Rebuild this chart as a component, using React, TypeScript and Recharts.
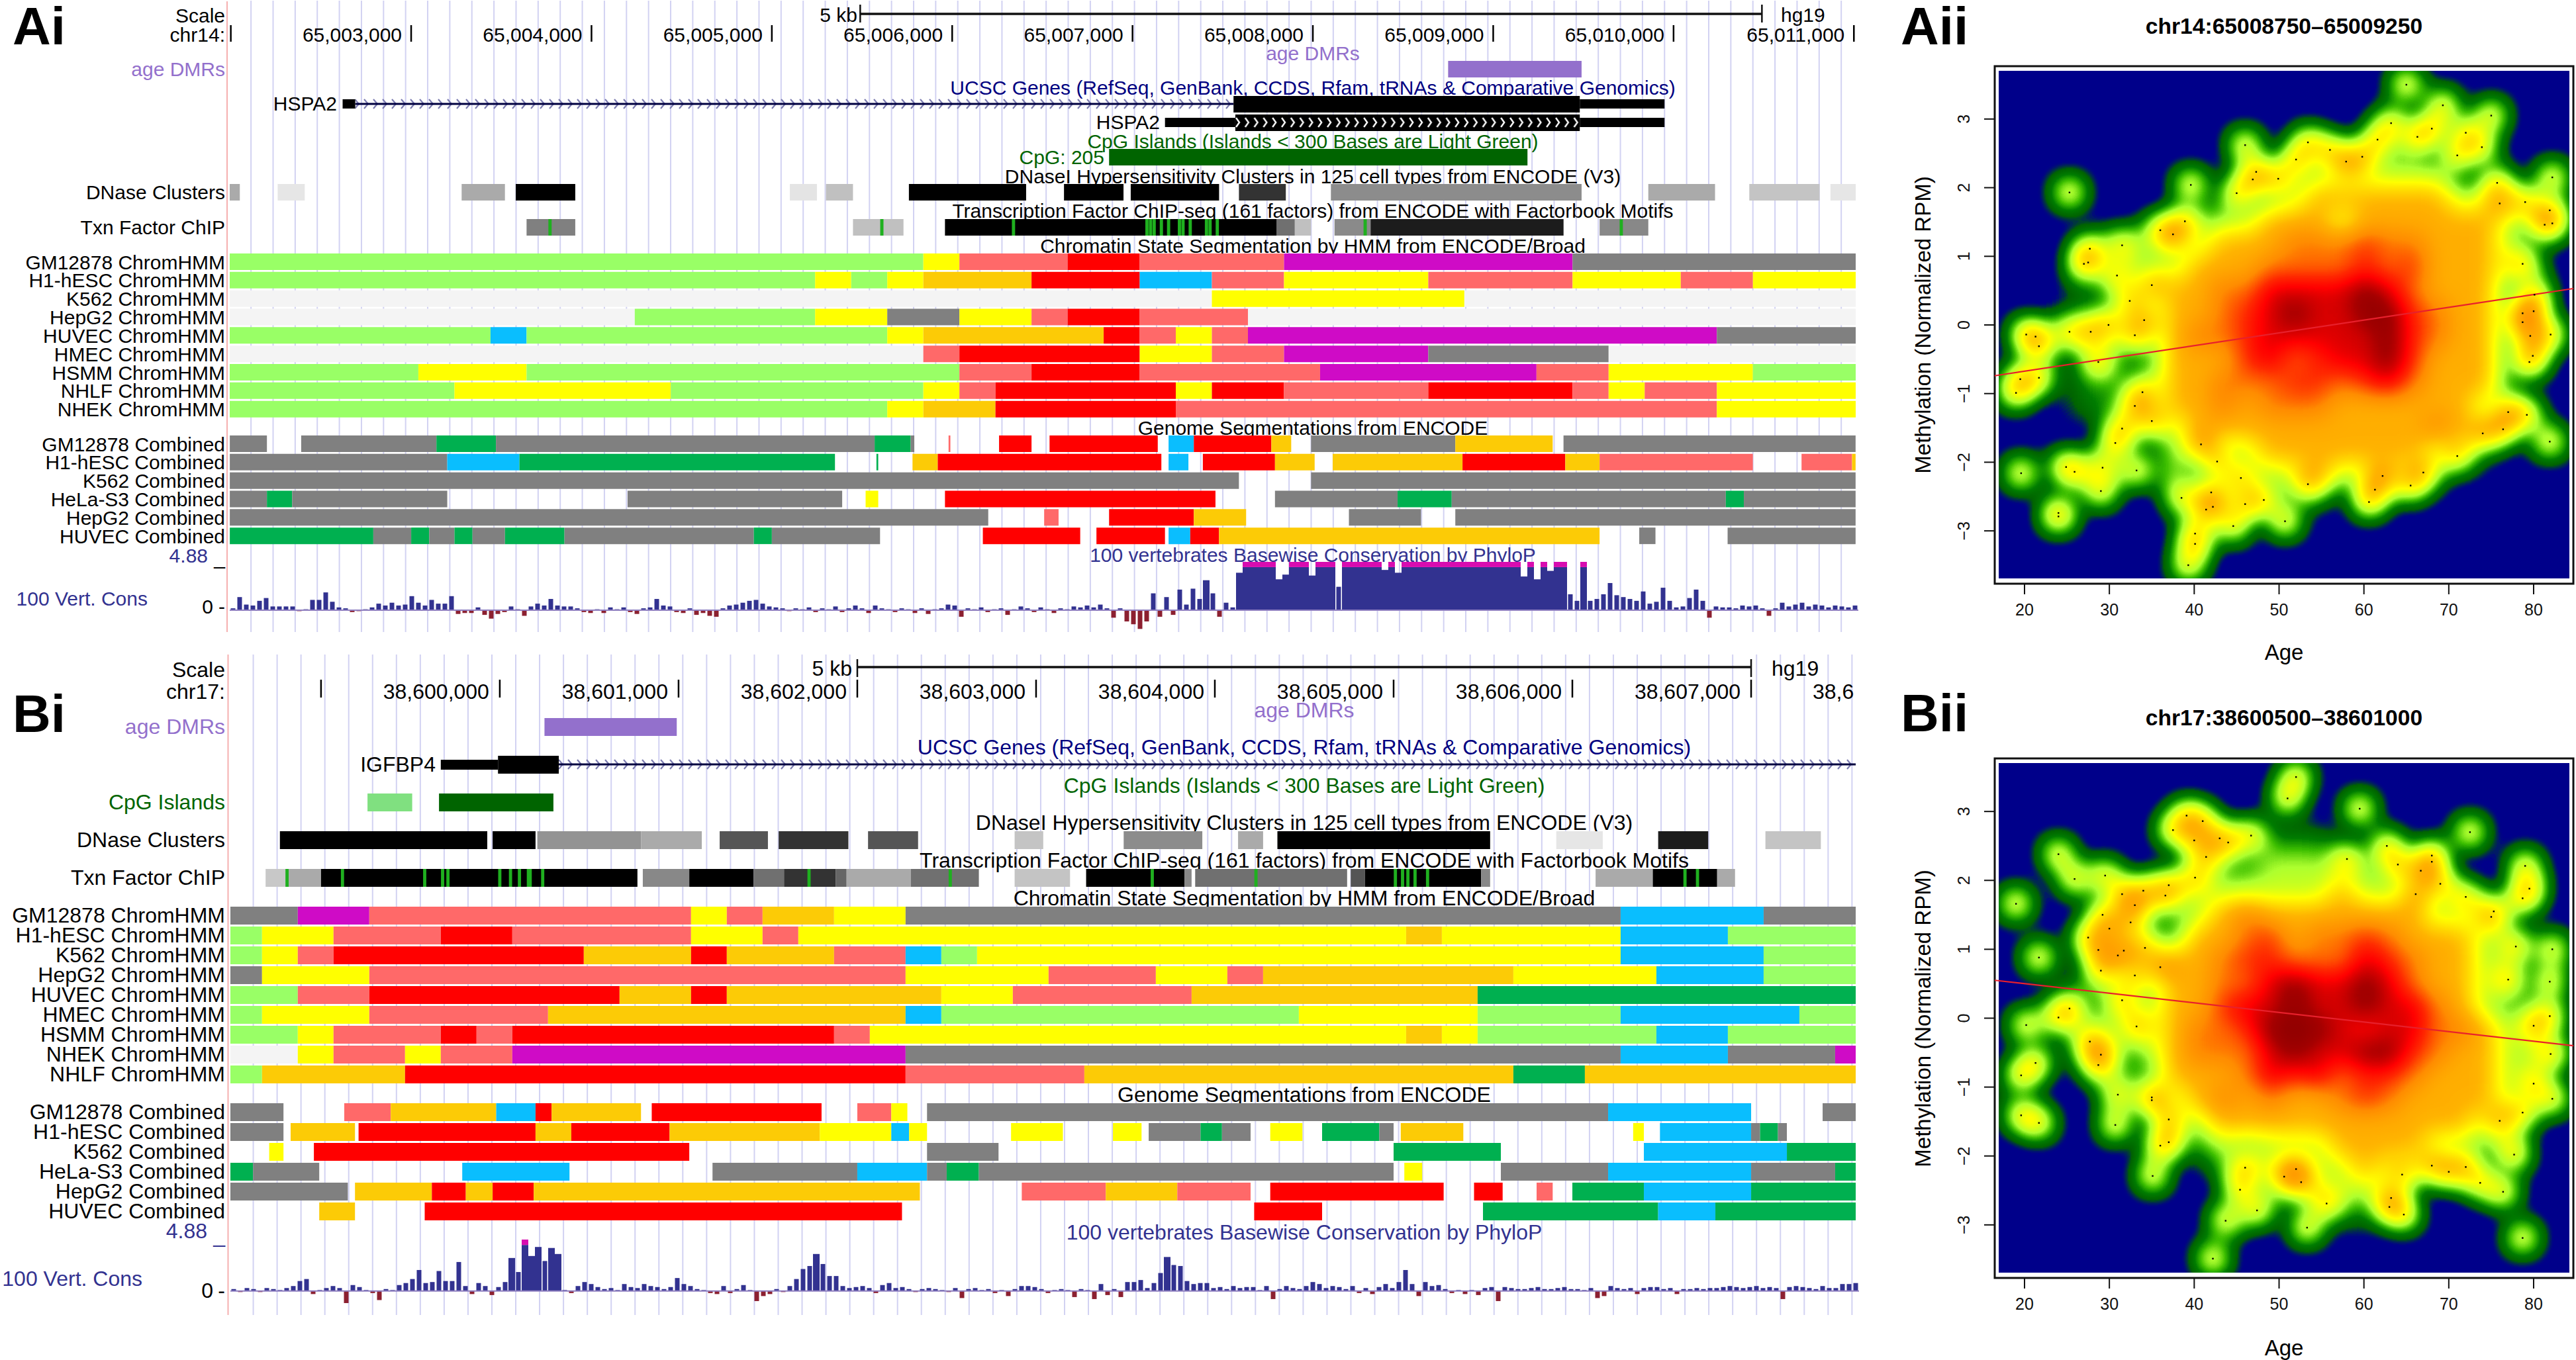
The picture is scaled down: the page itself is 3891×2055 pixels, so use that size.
import React from "react";
import {
  BarChart,
  Bar,
  Cell,
  ScatterChart,
  Scatter,
  XAxis,
  YAxis,
  ReferenceLine,
  ReferenceArea,
} from "recharts";

// every stop is [end position in kb, state]; a row starts at 0 and walks through its stops
type Stop = [number, string | number];
type Track = { name: string; stops: Stop[] };

const END = 14;

const STATE_COLORS: Record<string, string> = {
  G: "#99ff66",
  Y: "#ffff00",
  S: "#ff6969",
  R: "#ff0000",
  O: "#fccb06",
  P: "#cf0bc6",
  A: "#808080",
  B: "#0abefe",
  D: "#00b050",
  L: "#f4f4f4",
  M: "#1fb01f",
  K: "#000000",
  C: "#006400",
  c: "#80e080",
  V: "#9370cc",
  I: "url(#intronPattern)",
  H: "url(#cdsPattern)",
};

// ---- panel A, kb after 65,000,000 ----
const hmmA: Track[] = [
  { name: "GM12878 ChromHMM", stops: [[5.84, "G"], [6.04, "Y"], [6.64, "S"], [7.04, "R"], [7.84, "S"], [9.44, "P"], [END, "A"]] },
  { name: "H1-hESC ChromHMM", stops: [[5.24, "G"], [5.44, "Y"], [5.64, "G"], [5.84, "Y"], [6.44, "O"], [7.04, "R"], [7.44, "B"], [7.84, "S"], [8.64, "Y"], [9.44, "S"], [10.04, "Y"], [10.44, "S"], [END, "Y"]] },
  { name: "K562 ChromHMM", stops: [[7.44, "L"], [8.84, "Y"], [END, "L"]] },
  { name: "HepG2 ChromHMM", stops: [[4.24, "L"], [5.24, "G"], [5.64, "Y"], [6.04, "A"], [6.44, "Y"], [6.64, "S"], [7.04, "R"], [7.64, "S"], [END, "L"]] },
  { name: "HUVEC ChromHMM", stops: [[3.44, "G"], [3.64, "B"], [5.64, "G"], [5.84, "Y"], [6.84, "O"], [7.04, "R"], [7.24, "S"], [7.44, "Y"], [7.64, "S"], [10.24, "P"], [END, "A"]] },
  { name: "HMEC ChromHMM", stops: [[5.84, "L"], [6.04, "S"], [7.04, "R"], [7.44, "Y"], [7.84, "S"], [8.64, "P"], [9.64, "A"], [END, "L"]] },
  { name: "HSMM ChromHMM", stops: [[3.04, "G"], [3.64, "Y"], [6.04, "G"], [6.44, "S"], [7.04, "R"], [8.04, "S"], [9.24, "P"], [9.64, "S"], [10.44, "Y"], [END, "G"]] },
  { name: "NHLF ChromHMM", stops: [[3.24, "G"], [4.44, "Y"], [5.84, "G"], [6.04, "Y"], [6.24, "S"], [7.24, "R"], [7.44, "Y"], [7.84, "R"], [8.64, "S"], [9.44, "R"], [9.64, "S"], [9.84, "Y"], [10.24, "S"], [END, "Y"]] },
  { name: "NHEK ChromHMM", stops: [[5.64, "G"], [5.84, "Y"], [6.24, "O"], [7.24, "R"], [10.24, "S"], [END, "Y"]] },
];

const combinedA: Track[] = [
  { name: "GM12878 Combined", stops: [[2.2, "A"], [2.39, 0], [3.14, "A"], [3.47, "D"], [5.57, "A"], [5.77, "D"], [5.79, "A"], [5.98, 0], [5.99, "S"], [6.26, 0], [6.44, "R"], [6.54, 0], [7.14, "R"], [7.2, 0], [7.34, "B"], [7.77, "R"], [7.88, "O"], [7.99, 0], [8.79, "A"], [9.33, "O"], [9.39, 0], [END, "A"]] },
  { name: "H1-hESC Combined", stops: [[3.2, "A"], [3.6, "B"], [5.35, "D"], [5.58, 0], [5.59, "D"], [5.78, 0], [5.92, "O"], [7.16, "R"], [7.2, 0], [7.31, "B"], [7.39, 0], [7.79, "R"], [8.01, "O"], [8.11, 0], [8.83, "O"], [9.4, "R"], [9.59, "O"], [10.44, "S"], [10.71, 0], [10.99, "S"], [END, "O"]] },
  { name: "K562 Combined", stops: [[7.59, "A"], [7.99, 0], [END, "A"]] },
  { name: "HeLa-S3 Combined", stops: [[2.2, "A"], [2.34, "D"], [3.2, "A"], [4.2, 0], [5.39, "A"], [5.52, 0], [5.59, "Y"], [5.96, 0], [7.46, "R"], [7.79, 0], [8.47, "A"], [8.77, "D"], [10.29, "A"], [10.39, "D"], [END, "A"]] },
  { name: "HepG2 Combined", stops: [[6.2, "A"], [6.51, 0], [6.59, "S"], [6.87, 0], [7.34, "R"], [7.63, "O"], [8.2, 0], [8.6, "A"], [8.79, 0], [END, "A"]] },
  { name: "HUVEC Combined", stops: [[2.79, "D"], [3.0, "A"], [3.1, "D"], [3.24, "A"], [3.34, "D"], [3.52, "A"], [3.85, "D"], [4.9, "A"], [5.0, "D"], [5.6, "A"], [6.17, 0], [6.71, "R"], [6.8, 0], [7.18, "R"], [7.2, 0], [7.32, "B"], [7.48, "R"], [9.59, "O"], [9.81, 0], [9.9, "A"], [10.3, 0], [END, "A"]] },
];

const dmrA: Stop[] = [[8.75, 0], [9.49, "V"]];
const cpgA: Stop[] = [[6.87, 0], [9.19, "C"]];
const dnaseA: Stop[] = [[2.05, 85], [2.26, 0], [2.41, 25], [3.28, 0], [3.52, 85], [3.58, 0], [3.91, 255], [5.1, 0], [5.25, 27], [5.3, 0], [5.45, 63], [5.76, 0], [6.41, 255], [6.62, 0], [6.95, 255], [6.99, 0], [7.48, 255], [7.59, 0], [7.85, 204], [8.1, 0], [9.49, 115], [9.86, 0], [10.23, 85], [10.42, 0], [10.81, 59], [10.87, 0], [END, 25]];
const tfA: Stop[] = [[3.64, 0], [3.91, 127], [5.45, 0], [5.73, 63], [5.96, 0], [7.8, 255], [7.9, 143], [7.99, 63], [8.12, 0], [8.32, 117], [9.39, 227], [9.59, 0], [9.86, 119]];
const motifsA = [3.77, 5.61, 6.34, 7.08, 7.1, 7.12, 7.16, 7.2, 7.26, 7.28, 7.32, 7.41, 7.43, 7.47, 8.29, 9.71];
const geneIntronA: Stop[] = [[2.69, 0], [7.56, "I"]];
const geneUtrA: Stop[] = [[2.62, 0], [2.69, "K"], [9.48, 0], [9.95, "K"]];
const geneThickA: Stop[] = [[7.56, 0], [9.48, "K"]];
const transcriptUtrA: Stop[] = [[7.18, 0], [7.57, "K"], [9.48, 0], [9.95, "K"]];
const transcriptCdsA: Stop[] = [[7.57, 0], [9.48, "H"]];

const consA = [
  0.2, 1.4, 0.6, 0.5, 1.0, 1.3, 0.4, 0.4, 0.4, 0.4,
  -0.1, 0.1, 1.1, 1.1, 1.9, 0.9, 0.3, 0.2, -0.2, -0.1,
  0.1, 0.3, 0.7, 0.5, 0.8, 0.5, 0.6, 1.5, 0.8, 0.5,
  1.1, 0.7, 0.7, 1.5, -0.4, -0.3, -0.3, 0.3, -0.5, -0.9,
  -0.4, -0.2, 0.4, 0.1, -0.6, 0.4, 0.7, 0.5, 1.2, 0.5,
  0.4, 0.4, 0.2, -0.2, -0.3, 0.1, -0.3, 0.3, 0.1, 0.3,
  -0.2, -0.4, 0.2, 0.3, 1.2, 0.5, 0.4, -0.2, -0.3, 0.2,
  -0.5, -0.3, -0.6, -0.7, 0.2, 0.5, 0.6, 0.8, 1.0, 1.1,
  0.7, 0.4, 0.3, 0.2, -0.1, 0.2, 0.1, 0.3, -0.2, 0.2,
  0.1, 0.4, -0.2, 0.2, 0.5, 0.2, -0.3, 0.5, 0.2, 0.1,
  -0.2, 0.2, 0.1, -0.3, 0.2, -0.4, 0.1, 0.2, 0.6, 0.5,
  -0.7, 0.2, 0.1, 0.3, -0.2, 0.1, 0.2, -0.5, 0.1, 0.4,
  0.2, -0.2, 0.3, 0.1, -0.3, 0.2, 0.1, 0.4, 0.3, 0.5,
  0.3, 0.6, 0.2, -0.8, 0.2, -1.2, -1.5, -2.0, -1.2, 1.8,
  -0.7, 1.4, -0.5, 2.2, 0.6, 2.3, 1.2, 3.2, 1.8, -0.7,
  0.8, 0.3, 4.0, 5, 5, 5, 5, 5, 3.3, 3.8,
  5, 5, 5, 3.7, 5, 5, 5, 2.5, 5, 5,
  5, 5, 5, 5, 4.3, 5, 4.0, 5, 5, 5,
  5, 5, 5, 5, 5, 5, 5, 5, 5, 5,
  5, 5, 5, 5, 5, 3.6, 5, 3.3, 5, 4.2,
  5, 5, 1.7, 1.0, 4.7, 1.0, 1.2, 1.7, 2.9, 1.6,
  1.4, 1.2, 1.0, 2.0, 0.7, 0.9, 2.4, 1.0, 0.3, 0.4,
  1.3, 2.2, 1.0, -0.8, 0.4, 0.3, 0.3, 0.2, 0.5, 0.4,
  0.5, 0.2, -0.6, 0.2, 0.8, 0.4, 0.6, 0.8, 0.4, 0.6,
  0.5, 0.3, 0.5, 0.4, 0.3, 0.5,
];

// ---- panel B, kb after 38,595,000 ----
const hmmB: Track[] = [
  { name: "GM12878 ChromHMM", stops: [[3.87, "A"], [4.27, "P"], [6.07, "S"], [6.27, "Y"], [6.47, "S"], [6.87, "O"], [7.27, "Y"], [11.27, "A"], [12.07, "B"], [END, "A"]] },
  { name: "H1-hESC ChromHMM", stops: [[3.67, "G"], [4.07, "Y"], [4.67, "S"], [5.07, "R"], [6.07, "S"], [6.47, "Y"], [6.67, "S"], [10.07, "Y"], [10.27, "O"], [11.27, "Y"], [11.87, "B"], [END, "G"]] },
  { name: "K562 ChromHMM", stops: [[3.67, "G"], [3.87, "Y"], [4.07, "S"], [5.47, "R"], [6.07, "O"], [6.27, "R"], [6.87, "O"], [7.27, "S"], [7.47, "B"], [7.67, "G"], [11.27, "Y"], [12.07, "B"], [END, "G"]] },
  { name: "HepG2 ChromHMM", stops: [[3.67, "A"], [4.27, "Y"], [7.27, "S"], [8.07, "Y"], [8.67, "S"], [9.07, "Y"], [9.27, "S"], [10.67, "O"], [11.47, "Y"], [12.07, "B"], [END, "G"]] },
  { name: "HUVEC ChromHMM", stops: [[3.87, "G"], [4.27, "S"], [5.67, "R"], [6.07, "O"], [6.27, "R"], [7.47, "O"], [7.87, "Y"], [8.87, "S"], [10.47, "O"], [END, "D"]] },
  { name: "HMEC ChromHMM", stops: [[3.67, "G"], [4.27, "Y"], [5.27, "S"], [7.27, "O"], [7.47, "B"], [9.47, "G"], [10.47, "Y"], [11.27, "G"], [12.27, "B"], [END, "G"]] },
  { name: "HSMM ChromHMM", stops: [[3.87, "G"], [4.07, "Y"], [4.67, "S"], [4.87, "R"], [5.07, "S"], [6.87, "R"], [7.07, "S"], [10.07, "Y"], [10.27, "O"], [10.47, "Y"], [11.47, "G"], [11.87, "B"], [END, "G"]] },
  { name: "NHEK ChromHMM", stops: [[3.87, "L"], [4.07, "Y"], [4.47, "S"], [4.67, "Y"], [5.07, "S"], [7.27, "P"], [11.27, "A"], [11.87, "B"], [12.47, "A"], [END, "P"]] },
  { name: "NHLF ChromHMM", stops: [[3.67, "G"], [4.47, "O"], [7.27, "R"], [8.27, "S"], [10.67, "O"], [11.07, "D"], [END, "O"]] },
];

const combinedB: Track[] = [
  { name: "GM12878 Combined", stops: [[3.79, "A"], [4.13, 0], [4.39, "S"], [4.98, "O"], [5.2, "B"], [5.29, "R"], [5.79, "O"], [5.85, 0], [6.8, "R"], [7.0, 0], [7.19, "S"], [7.28, "Y"], [7.39, 0], [11.2, "A"], [12.0, "B"], [12.4, 0], [END, "A"]] },
  { name: "H1-hESC Combined", stops: [[3.79, "A"], [3.83, 0], [4.19, "O"], [4.21, 0], [5.2, "R"], [5.4, "O"], [5.95, "R"], [6.79, "O"], [7.19, "Y"], [7.29, "B"], [7.39, "Y"], [7.86, 0], [8.15, "Y"], [8.43, 0], [8.59, "Y"], [8.63, 0], [8.92, "A"], [9.04, "D"], [9.2, "A"], [9.31, 0], [9.49, "Y"], [9.6, 0], [9.92, "D"], [10.0, "A"], [10.04, 0], [10.39, "O"], [11.34, 0], [11.4, "Y"], [11.49, 0], [12.0, "B"], [12.05, "A"], [12.15, "D"], [12.2, "A"]] },
  { name: "K562 Combined", stops: [[3.71, 0], [3.79, "Y"], [3.96, 0], [6.06, "R"], [7.39, 0], [7.79, "A"], [10.0, 0], [10.6, "D"], [11.4, 0], [12.2, "B"], [END, "D"]] },
  { name: "HeLa-S3 Combined", stops: [[3.62, "D"], [3.99, "A"], [4.79, 0], [5.39, "B"], [6.19, 0], [7.0, "A"], [7.39, "B"], [7.5, "A"], [7.68, "D"], [10.0, "A"], [10.06, 0], [10.16, "Y"], [10.6, 0], [11.2, "A"], [12.0, "B"], [12.47, "A"], [END, "D"]] },
  { name: "HepG2 Combined", stops: [[4.15, "A"], [4.19, 0], [4.62, "O"], [4.81, "R"], [4.96, "O"], [5.19, "R"], [7.35, "O"], [7.92, 0], [8.39, "S"], [8.79, "O"], [9.2, "S"], [9.31, 0], [10.28, "R"], [10.45, 0], [10.61, "R"], [10.8, 0], [10.89, "S"], [11.0, 0], [11.4, "D"], [12.0, "B"], [END, "D"]] },
  { name: "HUVEC Combined", stops: [[3.99, 0], [4.19, "O"], [4.58, 0], [7.25, "R"], [9.22, 0], [9.6, "R"], [10.5, 0], [11.48, "D"], [11.8, "B"], [END, "D"]] },
];

const dmrB: Stop[] = [[5.25, 0], [5.99, "V"]];
const cpgB: Stop[] = [[4.26, 0], [4.51, "c"], [4.66, 0], [5.3, "C"]];
const dnaseB: Stop[] = [[3.77, 0], [4.93, 255], [4.96, 0], [5.2, 255], [5.21, 0], [5.79, 108], [6.13, 85], [6.23, 0], [6.5, 170], [6.56, 0], [6.95, 204], [7.06, 0], [7.34, 170], [7.88, 0], [8.04, 59], [8.49, 0], [8.93, 115], [9.13, 0], [9.27, 85], [9.35, 0], [10.54, 255], [10.91, 0], [11.17, 25], [11.48, 0], [11.76, 227], [12.08, 0], [12.39, 59]];
const tfB: Stop[] = [[3.69, 0], [3.81, 55], [4.0, 85], [5.77, 255], [5.8, 0], [6.06, 119], [6.42, 255], [6.59, 143], [6.88, 204], [6.94, 153], [7.3, 85], [7.68, 143], [7.88, 0], [8.19, 59], [8.28, 0], [8.83, 255], [8.87, 119], [8.89, 0], [9.74, 143], [9.76, 0], [9.84, 170], [10.49, 255], [10.54, 119], [11.13, 0], [11.45, 85], [11.81, 255], [11.91, 85]];
const motifsB = [3.81, 4.12, 4.58, 4.68, 4.71, 5.0, 5.06, 5.11, 5.16, 5.17, 5.24, 6.73, 7.52, 8.65, 9.23, 10.01, 10.05, 10.08, 10.12, 10.19, 11.63, 11.7];
const geneIntronB: Stop[] = [[5.33, 0], [END, "I"]];
const geneUtrB: Stop[] = [[4.67, 0], [4.99, "K"]];
const geneThickB: Stop[] = [[4.99, 0], [5.33, "K"]];

const consB = [
  0.2, -0.1, 0.3, 0.2, -0.1, 0.3, 0.2, 0.1, 0.3, 0.5,
  1.0, 1.2, -0.3, 0.1, 0.3, 0.5, 0.3, -1.2, 0.6, 0.4,
  0.1, -0.2, -0.9, 0.2, 0.1, 0.6, 0.8, 1.2, 2.1, 0.8,
  0.9, 2.0, 1.0, 1.0, 2.9, 0.5, -0.3, 0.8, 0.5, -0.4,
  0.4, 0.9, 3.3, 1.9, 5.1, 3.5, 4.4, 3.0, 4.3, 3.7,
  0.1, -0.2, 0.5, 0.9, 0.7, 0.4, 0.2, 0.3, 0.1, 0.7,
  0.4, 0.3, 0.7, 0.5, 0.4, 0.2, 0.4, 1.3, 0.7, 0.5,
  0.2, 0.1, -0.2, -0.3, 0.5, -0.2, 0.2, 0.6, 0.1, -1.0,
  -0.5, -0.3, 0.2, -0.1, 0.5, 1.2, 2.2, 2.5, 3.7, 2.7,
  1.5, 1.5, 0.5, 0.3, 0.4, 0.5, 0.3, -0.2, 0.6, 0.8,
  0.3, 0.4, 0.2, -0.1, 0.2, 0.3, 0.2, 0.1, -0.1, 0.3,
  -0.7, 0.2, 0.3, 0.1, 0.2, -0.2, 0.1, -0.5, 0.2, 0.5,
  0.5, 0.4, 0.2, -0.2, 0.1, 0.2, 0.1, -0.6, 0.2, 0.1,
  -0.8, 0.7, -0.4, 0.2, -0.6, 0.9, 0.9, 1.1, 0.3, 0.8,
  1.8, 3.4, 2.6, 2.5, 1.0, 0.7, 0.8, 0.8, 0.3, 0.4,
  0.2, 0.5, 0.3, 0.4, 0.4, 0.1, 0.5, -0.8, 0.2, 0.5,
  0.3, 0.2, 0.5, 0.9, 0.7, 0.3, 0.5, 0.4, 0.2, 0.5,
  -0.2, 0.3, -0.3, 0.4, 0.7, 0.3, 0.9, 2.1, 0.7, -0.5,
  0.9, 0.5, 0.6, 0.2, -0.2, 0.1, -0.3, 0.1, -0.4, 0.3,
  0.4, -1.0, 0.4, 0.3, 0.2, 0.2, 0.3, 0.4, 0.2, 0.2,
  0.3, 0.4, 0.2, 0.2, 0.1, 0.3, -0.7, -0.5, 0.5, 0.3,
  0.2, 0.3, -0.3, 0.3, 0.4, 0.4, 0.2, 0.3, -0.3, 0.2,
  0.2, 0.3, 0.2, 0.3, 0.3, 0.4, 0.5, 0.4, 0.3, 0.4,
  0.5, 0.3, 0.4, 0.3, -0.8, 0.4, 0.5, 0.4, 0.3, 0.2,
  0.5, 0.3, 0.3, 0.7, 0.7, 0.8,
];

// ---- scatter panels: the readable points, as [age, methylation] ----
const pointsA: [number, number][] = [
  [65, 3.5], [69.3, 3.2], [75, 3.05], [63.2, 2.94], [46, 2.62], [53.4, 2.66], [61.6, 2.7], [66.3, 2.74], [68, 2.86], [72, 2.8],
  [73.9, 2.59], [71, 2.47], [56, 2.55], [59.8, 2.45], [57.9, 2.38], [52, 2.41], [47.3, 2.23], [46.9, 2.12], [49.9, 2.13], [45, 1.92],
  [39.6, 2.04], [25.3, 1.93], [75.7, 2.07], [76, 1.77], [79, 1.79], [82.2, 2.15], [81.9, 1.67], [81.3, 1.46], [82.2, 1.48], [38.9, 1.51],
  [37.5, 1.32], [36, 1.38], [31.5, 1.16], [27.7, 1.11], [27, 0.89], [27.5, 0.91], [30.9, 0.72], [35, 0.58], [32.4, 0.35], [78.7, 0.89],
  [80.1, 0.44], [78.7, 0.17], [80, 0.2], [78.7, 0.04], [79.6, -0.16], [82, -0.14], [79.9, -0.45], [79.5, -0.54], [34.1, 0.07], [29.9, 0],
  [25.3, -0.1], [27.8, -0.1], [33, -0.15], [20.2, -0.14], [21.3, -0.17], [21.7, -0.31], [28.7, -0.54], [19.5, -0.79], [21.7, -0.77], [19, -0.99],
  [33.9, -0.98], [33, -1.18], [35, -1.4], [31.5, -1.51], [30.7, -1.72], [40.8, -1.74], [77, -1.27], [79.2, -1.31], [76.4, -1.52], [74, -1.58],
  [81.9, -1.7], [71, -1.91], [42.7, -1.99], [24.9, -2.07], [25.9, -2.14], [29.2, -2.08], [33.2, -2.12], [19.6, -2.16], [45.5, -2.23], [62.2, -2.2],
  [67, -2.15], [65.5, -2.34], [53.4, -2.32], [61.3, -2.4], [42, -2.44], [29, -2.42], [38.5, -2.52], [60.6, -2.58], [48.2, -2.55], [42.2, -2.65],
  [41.4, -2.69], [46, -2.61], [24, -2.74], [24, -2.79], [50.7, -2.86], [44.6, -2.93], [40.1, -3.04], [40.1, -3.19], [39.3, -3.5],
];
const pointsB: [number, number][] = [
  [52, 3.5], [51, 3.19], [59.5, 3.04], [39.1, 2.94], [41, 2.86], [37.5, 2.73], [72.5, 2.7], [46.7, 2.65], [43, 2.61], [44, 2.55],
  [40, 2.58], [62.7, 2.5], [24, 2.38], [41.4, 2.34], [58, 2.31], [68, 2.36], [68, 2.27], [64, 2.23], [79, 2.21], [66.7, 2.14],
  [29.5, 2.07], [25.9, 2.02], [40.1, 2.04], [69, 1.95], [37, 1.93], [34, 1.85], [79.5, 1.88], [31.5, 1.8], [36.6, 1.78], [66.1, 1.8],
  [72, 1.76], [78.7, 1.74], [19, 1.66], [33, 1.64], [75.3, 1.55], [75, 1.47], [29.2, 1.5], [32.5, 1.39], [30, 1.3], [27.5, 1.17],
  [34.2, 1.02], [77.9, 1.04], [82.2, 1.0], [28.7, 0.99], [31.7, 0.98], [31, 0.91], [21.7, 0.88], [36, 0.74], [29, 0.69], [77, 0.56],
  [33, 0.62], [81.9, 0.53], [31.5, 0.26], [25.3, 0.14], [24, 0.01], [81.9, 0.03], [33.2, -0.12], [20.2, -0.1], [80, -0.11], [27.7, -0.34],
  [29, -0.53], [82, -0.52], [28.7, -0.68], [21.3, -0.65], [19.6, -0.83], [80, -0.95], [31, -1.11], [35, -1.15], [35, -1.19], [82.2, -1.17],
  [78.7, -1.37], [37, -1.47], [19.6, -1.41], [21.7, -1.52], [30.7, -1.55], [76, -1.49], [37, -1.8], [36, -1.85], [77.7, -1.98], [46, -2.17],
  [68, -2.14], [72, -2.16], [70, -2.23], [52, -2.19], [50.6, -2.3], [35.1, -2.29], [64.5, -2.27], [52.6, -2.38], [73.7, -2.39], [45.4, -2.49],
  [76.4, -2.52], [63.2, -2.61], [55.6, -2.69], [63, -2.74], [47.4, -2.79], [64.7, -2.85], [43.7, -2.94], [53.3, -3.04], [78.7, -3.19], [42.2, -3.49],
];

// density of the crowded middle, one digit per cell (age across, methylation down)
const densityA = [
  "000000000000000000000000",
  "000000000000000000000000",
  "000000000000000000000000",
  "000000000000000033000000",
  "000000000000344444400000",
  "000000000003455555544300",
  "000000003445554555555430",
  "000003344555666766555400",
  "000003445556666767555430",
  "000222355668888986555210",
  "000222355678988997655210",
  "002232356678888897655210",
  "000232355578678897555210",
  "000232355666776786555200",
  "000232355656665555554300",
  "000000345555555555654200",
  "000000043345555555432000",
  "000000041234454443200000",
  "000000000300220000000000",
  "000000000000000000000000",
  "000000000000000000000000",
  "000000000000000000000000",
];
const densityB = [
  "000000000000000000000000",
  "000000000000000000000000",
  "000000000000000000000000",
  "000000000003330000000000",
  "000000000334443330000000",
  "000000034444445443300000",
  "000000234565555555443000",
  "000002235567566765554300",
  "000022355677666876554300",
  "000232355668988986554300",
  "002233455788988988654330",
  "000343456679998788665430",
  "000343456668988997655443",
  "000032355568786776555430",
  "000000345656556765555400",
  "000000034555555555554300",
  "000000003434445555443400",
  "000000000334444543200000",
  "000000000003344420000000",
  "000000000000002200000000",
  "000000000000000000000000",
  "000000000000000000000000",
];
const LEVEL_ALPHA = [0, 0.03, 0.06, 0.1, 0.2, 0.45, 0.6, 0.72, 0.84, 0.98];

const ageTicks = [20, 30, 40, 50, 60, 70, 80];
const methTicks = [-3, -2, -1, 0, 1, 2, 3];
const fitA = [[16.49, -0.74], [84.68, 0.53]];
const fitB = [[16.49, 0.55], [84.68, -0.4]];

const AGE_DOMAIN: [number, number] = [16.49, 84.68];
const METH_DOMAIN: [number, number] = [-3.77, 3.77];

type View = { domain: [number, number]; left: number; right: number; width: number };
const viewA: View = { domain: [1.994, 11.01], left: 347, right: 17, width: 2820 };
const viewB: View = { domain: [3.493, 12.585], left: 348, right: 17, width: 2820 };

const SANS = "'Liberation Sans', Arial, Helvetica, sans-serif";
const CONS_BLUE = "#323290";

function fillOf(state: string | number) {
  if (typeof state === "number") {
    if (state === 0) return "none";
    const v = 255 - state;
    return `rgb(${v},${v},${v})`;
  }
  return STATE_COLORS[state];
}

// turns stops into stacked widths, one bar slot per stop
function toRows(tracks: Track[]) {
  return tracks.map((t) => {
    const row: Record<string, any> = { name: t.name };
    let prev = 0;
    t.stops.forEach(([end, state], i) => {
      row[`w${i}`] = end - prev;
      row[`c${i}`] = fillOf(state);
      prev = end;
    });
    return row;
  });
}

const ROW_PAD = 8;

function TrackRows(props: {
  tracks: Track[];
  view: View;
  center: number;
  pitch: number;
  barH: number;
  fontSize?: number;
  color?: string;
}) {
  const { tracks, view, center, pitch, barH, fontSize = 30, color = "#000" } = props;
  const rows = toRows(tracks);
  const slots = Math.max(...tracks.map((t) => t.stops.length));
  const inner = tracks.length * pitch;
  return (
    <div style={{ position: "absolute", left: 0, top: center - inner / 2 - ROW_PAD }}>
      <BarChart
        layout="vertical"
        width={view.width}
        height={inner + 2 * ROW_PAD}
        data={rows}
        margin={{ left: 0, right: view.right, top: ROW_PAD, bottom: ROW_PAD }}
        barCategoryGap={0}
        barSize={barH}
      >
        <XAxis type="number" hide domain={view.domain} allowDataOverflow />
        <YAxis
          type="category"
          dataKey="name"
          width={view.left}
          axisLine={false}
          tickLine={false}
          tickSize={0}
          tickMargin={view.left - 340}
          interval={0}
          tick={{ fontSize, fill: color, fontFamily: SANS }}
        />
        {Array.from({ length: slots }, (_, i) => (
          <Bar key={i} dataKey={`w${i}`} stackId="t" isAnimationActive={false}>
            {rows.map((r, j) => (
              <Cell key={j} fill={r[`c${i}`] || "none"} />
            ))}
          </Bar>
        ))}
      </BarChart>
    </div>
  );
}

const single = (name: string, stops: Stop[]): Track[] => [{ name, stops }];

function motifStops(list: number[]): Stop[] {
  const out: Stop[] = [];
  list.forEach((c) => {
    out.push([c - 0.009, 0]);
    out.push([c + 0.009, "M"]);
  });
  return out;
}

function Ruler(props: {
  view: View;
  top: number;
  height: number;
  ticks: number[];
  tickLabel: (k: number) => string;
  tickTop: number;
  tickBottom: number;
  labelBase: number;
  labelGap: number;
  fontSize: number;
  guideStart: number;
  guideStep: number;
  guideCount: number;
  barFrom: number;
  barTo: number;
  barY: number;
  barTop: number;
  barBottom: number;
}) {
  const p = props;
  const guides = Array.from({ length: p.guideCount }, (_, i) => p.guideStart + i * p.guideStep);
  const rel = (y: number) => y - p.top;
  const tick = ({ x, payload }: any) => (
    <g>
      <line x1={x} x2={x} y1={rel(p.tickTop)} y2={rel(p.tickBottom)} stroke="#000" strokeWidth={2.5} />
      <text x={x - p.labelGap} y={rel(p.labelBase)} textAnchor="end" fontSize={p.fontSize} fontFamily={SANS} fill="#000">
        {p.tickLabel(payload.value)}
      </text>
    </g>
  );
  return (
    <div style={{ position: "absolute", left: 0, top: p.top }}>
      <ScatterChart
        width={p.view.width}
        height={p.height}
        margin={{ left: p.view.left, right: p.view.right, top: 0, bottom: 0 }}
      >
        <XAxis
          type="number"
          dataKey="g"
          orientation="top"
          height={1}
          domain={p.view.domain}
          allowDataOverflow
          ticks={p.ticks}
          interval={0}
          axisLine={false}
          tickLine={false}
          tick={tick}
        />
        <YAxis hide type="number" dataKey="y" domain={[0, p.height]} reversed />
        <Scatter data={guides.map((g) => ({ g, y: 0 }))} shape={() => null} isAnimationActive={false} />
        {guides.map((g) => (
          <ReferenceLine key={g} x={g} stroke="#d2d2f2" strokeWidth={2} />
        ))}
        <ReferenceLine
          segment={[{ x: p.barFrom, y: rel(p.barY) }, { x: p.barTo, y: rel(p.barY) }]}
          stroke="#111"
          strokeWidth={3.5}
        />
        <ReferenceLine
          segment={[{ x: p.barFrom, y: rel(p.barTop) }, { x: p.barFrom, y: rel(p.barBottom) }]}
          stroke="#111"
          strokeWidth={2.5}
        />
        <ReferenceLine
          segment={[{ x: p.barTo, y: rel(p.barTop) }, { x: p.barTo, y: rel(p.barBottom) }]}
          stroke="#111"
          strokeWidth={2.5}
        />
      </ScatterChart>
    </div>
  );
}

const CONS_CAP = 4.6;

// low scores are drawn as thin spikes, the saturated block closes up
function spikeShape(fill: string) {
  return (s: any) => {
    if (!s.height) return null;
    const solid = s.payload.raw >= 3.2;
    const w = solid ? s.width : s.width * 0.7;
    return (
      <rect
        x={s.x + (s.width - w) / 2}
        y={Math.min(s.y, s.y + s.height)}
        width={w}
        height={Math.abs(s.height)}
        fill={fill}
      />
    );
  };
}

function Conservation(props: { values: number[]; view: View; top: number; height: number; domain: [number, number] }) {
  const { values, view, top, height, domain } = props;
  const data = values.map((v, i) => ({
    i,
    raw: v,
    pos: v > 0 ? Math.min(v, CONS_CAP) : 0,
    cap: v > CONS_CAP ? domain[1] - CONS_CAP : 0,
    neg: v < 0 ? v : 0,
  }));
  return (
    <div style={{ position: "absolute", left: 0, top }}>
      <BarChart
        width={view.width}
        height={height}
        data={data}
        stackOffset="sign"
        barCategoryGap={0}
        // a whole number of pixels per bin, so the bars close up
        margin={{ left: view.left, right: view.width - view.left - values.length * 10, top: 0, bottom: 0 }}
      >
        <XAxis dataKey="i" hide />
        <YAxis hide type="number" domain={domain} allowDataOverflow />
        <ReferenceLine y={0} stroke="#8f7fc0" strokeWidth={2} />
        <Bar dataKey="pos" stackId="c" shape={spikeShape(CONS_BLUE)} isAnimationActive={false} />
        <Bar dataKey="cap" stackId="c" shape={spikeShape("#d80cb0")} isAnimationActive={false} />
        <Bar dataKey="neg" stackId="c" shape={spikeShape("#8c2030")} isAnimationActive={false} />
      </BarChart>
    </div>
  );
}

// ---- density scatter ----
const RAMP: [number, number[]][] = [
  [0, [0, 0, 139]],
  [0.012, [0, 0, 139]],
  [0.04, [0, 100, 0]],
  [0.08, [0, 125, 0]],
  [0.13, [60, 190, 0]],
  [0.19, [173, 255, 47]],
  [0.3, [255, 255, 0]],
  [0.45, [255, 180, 0]],
  [0.58, [255, 140, 0]],
  [0.72, [255, 40, 0]],
  [0.8, [255, 0, 0]],
  [0.92, [165, 0, 0]],
  [1, [135, 0, 0]],
];

function rampTable(channel: number) {
  const out: string[] = [];
  for (let i = 0; i <= 200; i++) {
    const t = i / 200;
    let k = 0;
    while (k < RAMP.length - 2 && t > RAMP[k + 1][0]) k++;
    const [a, ca] = RAMP[k];
    const [b, cb] = RAMP[k + 1];
    const f = Math.min(1, (t - a) / (b - a));
    out.push(((ca[channel] + (cb[channel] - ca[channel]) * f) / 255).toFixed(3));
  }
  return out.join(" ");
}

const HEAT_LEFT = 3019;
const HEAT_W = 862;
const BOX_LEFT = 3013;
const BOX_RIGHT = 3887;
const PAD = 80;

function Heat(props: {
  points: [number, number][];
  density: string[];
  fit: number[][];
  chartTop: number;
  chartH: number;
  boxTop: number;
  boxBottom: number;
}) {
  const { points, density, fit, chartTop, chartH, boxTop, boxBottom } = props;
  const pxPerAge = (BOX_RIGHT - BOX_LEFT) / (AGE_DOMAIN[1] - AGE_DOMAIN[0]);
  const pxPerMeth = (boxBottom - boxTop) / (METH_DOMAIN[1] - METH_DOMAIN[0]);
  const heatTop = boxTop + 7;
  const heatH = boxBottom - boxTop - 15;

  const cells = density.flatMap((row, r) =>
    row.split("").map((d, c) => ({
      age: 16.8 + 2.8 * (c + 0.5),
      meth: 3.7 - 0.336 * (r + 0.5),
      level: Number(d),
    }))
  ).filter((c) => c.level > 0);
  const dots = points.map(([age, meth]) => ({ age, meth }));

  const ageDom: [number, number] = [
    AGE_DOMAIN[0] + (HEAT_LEFT - PAD - BOX_LEFT) / pxPerAge,
    AGE_DOMAIN[0] + (HEAT_LEFT + HEAT_W + PAD - BOX_LEFT) / pxPerAge,
  ];
  const methDom: [number, number] = [
    METH_DOMAIN[1] - (heatTop + heatH + PAD - boxTop) / pxPerMeth,
    METH_DOMAIN[1] - (heatTop - PAD - boxTop) / pxPerMeth,
  ];

  const cellShape = (s: any) => (
    <rect x={s.cx - 18.5} y={s.cy - 18} width={37} height={36} fill="#000" fillOpacity={LEVEL_ALPHA[s.payload.level]} />
  );
  const blobShape = (s: any) => <circle cx={s.cx} cy={s.cy} r={14} fill="#000" fillOpacity={0.8} />;
  const dotShape = (s: any) => <rect x={s.cx - 1.2} y={s.cy - 1.2} width={2.4} height={2.4} fill="#000" />;

  const methTick = ({ x, y, payload }: any) => (
    <text
      x={x - 8}
      y={y}
      transform={`rotate(-90 ${x - 8} ${y})`}
      textAnchor="middle"
      fontSize={25}
      fontFamily={SANS}
      fill="#111"
    >
      {payload.value < 0 ? `\u2212${-payload.value}` : payload.value}
    </text>
  );

  return (
    <>
      <div
        style={{
          position: "absolute",
          left: HEAT_LEFT,
          top: heatTop,
          width: HEAT_W,
          height: heatH,
          overflow: "hidden",
        }}
      >
        <div
          style={{
            position: "absolute",
            left: -PAD,
            top: -PAD,
            width: HEAT_W + 2 * PAD,
            height: heatH + 2 * PAD,
            filter: "url(#heatRamp)",
          }}
        >
          <ScatterChart width={HEAT_W + 2 * PAD} height={heatH + 2 * PAD} margin={{ left: 0, right: 0, top: 0, bottom: 0 }}>
            <XAxis hide type="number" dataKey="age" domain={ageDom} allowDataOverflow />
            <YAxis hide type="number" dataKey="meth" domain={methDom} allowDataOverflow />
            <Scatter data={cells} shape={cellShape} isAnimationActive={false} />
            <Scatter data={dots} shape={blobShape} isAnimationActive={false} />
          </ScatterChart>
        </div>
      </div>
      <div style={{ position: "absolute", left: 2850, top: chartTop }}>
        <ScatterChart
          width={1041}
          height={chartH}
          margin={{ left: 0, right: 4, top: boxTop - chartTop, bottom: 0 }}
        >
          <XAxis
            type="number"
            dataKey="age"
            domain={AGE_DOMAIN}
            allowDataOverflow
            ticks={ageTicks}
            interval={0}
            height={chartTop + chartH - boxBottom}
            axisLine={false}
            tickSize={16}
            tickMargin={14}
            tickLine={{ stroke: "#111", strokeWidth: 2 }}
            tick={{ fontSize: 25, fill: "#111", fontFamily: SANS }}
          />
          <YAxis
            type="number"
            dataKey="meth"
            domain={METH_DOMAIN}
            allowDataOverflow
            ticks={methTicks}
            interval={0}
            width={BOX_LEFT - 2850}
            axisLine={false}
            tickSize={16}
            tickMargin={14}
            tickLine={{ stroke: "#111", strokeWidth: 2 }}
            tick={methTick}
          />
          <ReferenceArea
            x1={AGE_DOMAIN[0]}
            x2={AGE_DOMAIN[1]}
            y1={METH_DOMAIN[0]}
            y2={METH_DOMAIN[1]}
            fill="none"
            stroke="#111"
            strokeWidth={3}
            ifOverflow="visible"
          />
          <Scatter data={dots} shape={dotShape} isAnimationActive={false} />
          <ReferenceLine
            segment={[{ x: fit[0][0], y: fit[0][1] }, { x: fit[1][0], y: fit[1][1] }]}
            stroke="#e8202c"
            strokeWidth={2.2}
          />
        </ScatterChart>
      </div>
    </>
  );
}

function T(props: any) {
  const { anchor = "end", size = 30, color = "#000", children, ...rest } = props;
  return (
    <text textAnchor={anchor} fontSize={size} fill={color} fontFamily={SANS} {...rest}>
      {children}
    </text>
  );
}

const NAVY = "#000080";
const GREEN = "#006400";
const PURPLE = "#9370cc";

const PAGE = { position: "absolute", left: 0, top: 0 } as const;

const titlesA = [
  { text: "age DMRs", y: 91, color: PURPLE },
  { text: "UCSC Genes (RefSeq, GenBank, CCDS, Rfam, tRNAs & Comparative Genomics)", y: 143, color: NAVY },
  { text: "CpG Islands (Islands < 300 Bases are Light Green)", y: 224, color: GREEN },
  { text: "DNaseI Hypersensitivity Clusters in 125 cell types from ENCODE (V3)", y: 277, color: "#000" },
  { text: "Transcription Factor ChIP-seq (161 factors) from ENCODE with Factorbook Motifs", y: 329, color: "#000" },
  { text: "Chromatin State Segmentation by HMM from ENCODE/Broad", y: 382, color: "#000" },
  { text: "Genome Segmentations from ENCODE", y: 657, color: "#000" },
  { text: "100 vertebrates Basewise Conservation by PhyloP", y: 849, color: CONS_BLUE },
];
const titlesB = [
  { text: "age DMRs", y: 1084, color: PURPLE },
  { text: "UCSC Genes (RefSeq, GenBank, CCDS, Rfam, tRNAs & Comparative Genomics)", y: 1140, color: NAVY },
  { text: "CpG Islands (Islands < 300 Bases are Light Green)", y: 1198, color: GREEN },
  { text: "DNaseI Hypersensitivity Clusters in 125 cell types from ENCODE (V3)", y: 1254, color: "#000" },
  { text: "Transcription Factor ChIP-seq (161 factors) from ENCODE with Factorbook Motifs", y: 1311, color: "#000" },
  { text: "Chromatin State Segmentation by HMM from ENCODE/Broad", y: 1368, color: "#000" },
  { text: "Genome Segmentations from ENCODE", y: 1665, color: "#000" },
  { text: "100 vertebrates Basewise Conservation by PhyloP", y: 1873, color: CONS_BLUE },
];

const fmt = (n: number) => n.toLocaleString("en-US");

export default function App() {
  return (
    <div
      style={{
        position: "absolute",
        left: 0,
        top: 0,
        width: 3891,
        height: 2055,
        background: "#fff",
        overflow: "hidden",
        fontFamily: SANS,
      }}
    >
      <svg width={3891} height={2055} style={PAGE}>
        <defs>
          {/* tiles line up with the middle of a 30px row chart (8px pad + 15) */}
          <pattern id="intronPattern" patternUnits="userSpaceOnUse" width={14} height={46}>
            <path d="M4 16 L10 23 L4 30" fill="none" stroke="#7c7cb0" strokeWidth={2.2} />
            <rect x={0} y={21.5} width={14} height={3} fill="#000040" />
          </pattern>
          <pattern id="cdsPattern" patternUnits="userSpaceOnUse" width={13.8} height={46}>
            <rect width={13.8} height={46} fill="#000" />
            <path d="M4 16 L9 23 L4 30" fill="none" stroke="#fff" strokeWidth={2.4} />
          </pattern>
          <filter id="heatRamp" x="0" y="0" width="1" height="1" colorInterpolationFilters="sRGB">
            <feGaussianBlur in="SourceAlpha" stdDeviation={19} />
            <feColorMatrix type="matrix" values="0 0 0 1 0  0 0 0 1 0  0 0 0 1 0  0 0 0 0 1" />
            <feComponentTransfer>
              <feFuncR type="table" tableValues={rampTable(0)} />
              <feFuncG type="table" tableValues={rampTable(1)} />
              <feFuncB type="table" tableValues={rampTable(2)} />
            </feComponentTransfer>
          </filter>
        </defs>
      </svg>

      {/* panel A */}
      <Ruler
        view={viewA}
        top={0}
        height={955}
        ticks={[2, 3, 4, 5, 6, 7, 8, 9, 10, 11]}
        tickLabel={(k) => (k === 2 ? "" : fmt(65000000 + k * 1000))}
        tickTop={38}
        tickBottom={63}
        labelBase={63}
        labelGap={14}
        fontSize={30}
        guideStart={2.112}
        guideStep={0.12247}
        guideCount={73}
        barFrom={5.49}
        barTo={10.49}
        barY={20}
        barTop={6}
        barBottom={33}
      />
      <svg width={3891} height={1000} style={PAGE}>
        {titlesA.map((t) => (
          <T key={t.y} x={1983} y={t.y} anchor="middle" color={t.color}>
            {t.text}
          </T>
        ))}
        <T x={1668} y={248} color={GREEN}>CpG: 205</T>
      </svg>
      <TrackRows tracks={single("age DMRs", dmrA)} view={viewA} center={103.5} pitch={30} barH={25} color={PURPLE} />
      <TrackRows tracks={single("", geneIntronA)} view={viewA} center={156.5} pitch={30} barH={16} />
      <TrackRows tracks={single("", geneUtrA)} view={viewA} center={156.5} pitch={30} barH={14} />
      <TrackRows tracks={single("", geneThickA)} view={viewA} center={156.5} pitch={30} barH={25} />
      <TrackRows tracks={single("", transcriptUtrA)} view={viewA} center={184.5} pitch={30} barH={14} />
      <TrackRows tracks={single("", transcriptCdsA)} view={viewA} center={184.5} pitch={30} barH={25} />
      <TrackRows tracks={single("", cpgA)} view={viewA} center={236.5} pitch={30} barH={25} />
      <TrackRows tracks={single("DNase Clusters", dnaseA)} view={viewA} center={289.5} pitch={30} barH={25} />
      <TrackRows tracks={single("Txn Factor ChIP", tfA)} view={viewA} center={342.5} pitch={30} barH={25} />
      <TrackRows tracks={single("", motifStops(motifsA))} view={viewA} center={342.5} pitch={30} barH={25} />
      <TrackRows tracks={hmmA} view={viewA} center={381.6 + (27.83 * 9) / 2} pitch={27.83} barH={25} />
      <TrackRows tracks={combinedA} view={viewA} center={656.6 + (27.83 * 6) / 2} pitch={27.83} barH={25} />
      <Conservation values={consA} view={viewA} top={849} height={106} domain={[-2.33, 5.16]} />

      {/* panel B */}
      <Ruler
        view={viewB}
        top={988}
        height={999}
        ticks={[4, 5, 6, 7, 8, 9, 10, 11, 12]}
        tickLabel={(k) => (k === 4 ? "" : fmt(38595000 + k * 1000))}
        tickTop={1027}
        tickBottom={1054}
        labelBase={1056}
        labelGap={16}
        fontSize={32}
        guideStart={3.621}
        guideStep={0.13348}
        guideCount={68}
        barFrom={7.0}
        barTo={12.0}
        barY={1007}
        barTop={995}
        barBottom={1022}
      />
      <svg width={3891} height={2055} style={PAGE}>
        {titlesB.map((t) => (
          <T key={t.y} x={1970} y={t.y} anchor="middle" color={t.color} size={32}>
            {t.text}
          </T>
        ))}
      </svg>
      <TrackRows tracks={single("age DMRs", dmrB)} view={viewB} center={1097.5} pitch={30} barH={27} fontSize={32} color={PURPLE} />
      <TrackRows tracks={single("", geneIntronB)} view={viewB} center={1154.5} pitch={30} barH={16} />
      <TrackRows tracks={single("", geneUtrB)} view={viewB} center={1154.5} pitch={30} barH={15} />
      <TrackRows tracks={single("", geneThickB)} view={viewB} center={1154.5} pitch={30} barH={27} />
      <TrackRows tracks={single("CpG Islands", cpgB)} view={viewB} center={1211.5} pitch={30} barH={27} fontSize={32} color={GREEN} />
      <TrackRows tracks={single("DNase Clusters", dnaseB)} view={viewB} center={1268.5} pitch={30} barH={27} fontSize={32} />
      <TrackRows tracks={single("Txn Factor ChIP", tfB)} view={viewB} center={1325.5} pitch={30} barH={27} fontSize={32} />
      <TrackRows tracks={single("", motifStops(motifsB))} view={viewB} center={1325.5} pitch={30} barH={27} />
      <TrackRows tracks={hmmB} view={viewB} center={1367.5 + 135} pitch={30} barH={27} fontSize={32} />
      <TrackRows tracks={combinedB} view={viewB} center={1664.5 + 90} pitch={30} barH={27} fontSize={32} />
      <Conservation values={consB} view={viewB} top={1873} height={114} domain={[-2.39, 5.14]} />

      {/* scatter panels */}
      <Heat points={pointsA} density={densityA} fit={fitA} chartTop={60} chartH={900} boxTop={100} boxBottom={882} />
      <Heat points={pointsB} density={densityB} fit={fitB} chartTop={1106} chartH={900} boxTop={1146} boxBottom={1931} />

      <svg width={3891} height={2055} style={{ ...PAGE, pointerEvents: "none" }}>
        <line x1={343} x2={343} y1={2} y2={955} stroke="#f6b0b0" strokeWidth={2} />
        <line x1={344.5} x2={344.5} y1={989} y2={1987} stroke="#f6b0b0" strokeWidth={2} />

        <T x={19} y={67} anchor="start" size={80} fontWeight="bold">Ai</T>
        <T x={19} y={1106} anchor="start" size={80} fontWeight="bold">Bi</T>
        <T x={2871} y={67} anchor="start" size={80} fontWeight="bold">Aii</T>
        <T x={2871} y={1105} anchor="start" size={80} fontWeight="bold">Bii</T>

        <T x={340} y={34}>Scale</T>
        <T x={340} y={63}>chr14:</T>
        <T x={1295} y={33}>5 kb</T>
        <T x={2690} y={33} anchor="start">hg19</T>
        <T x={509} y={167}>HSPA2</T>
        <T x={1752} y={195}>HSPA2</T>
        <T x={223} y={915} color={CONS_BLUE}>100 Vert. Cons</T>
        <T x={314} y={850} color={CONS_BLUE}>4.88</T>
        <T x={340} y={853}>_</T>
        <T x={322} y={927}>0</T>
        <T x={340} y={927}>-</T>

        <T x={340} y={1023} size={32}>Scale</T>
        <T x={340} y={1056} size={32}>chr17:</T>
        <T x={1287} y={1021} size={32}>5 kb</T>
        <T x={2676} y={1021} anchor="start" size={32}>hg19</T>
        <T x={2738} y={1056} anchor="start" size={32}>38,6</T>
        <T x={658} y={1166} size={32}>IGFBP4</T>
        <T x={215} y={1943} size={32} color={CONS_BLUE}>100 Vert. Cons</T>
        <T x={313} y={1871} size={32} color={CONS_BLUE}>4.88</T>
        <T x={340} y={1878} size={32} color={CONS_BLUE}>_</T>
        <T x={322} y={1961} size={32}>0</T>
        <T x={340} y={1961} size={32}>-</T>

        <T x={3450} y={51} anchor="middle" size={33.6} fontWeight="bold">chr14:65008750{"\u2013"}65009250</T>
        <T x={3450} y={1096} anchor="middle" size={33.6} fontWeight="bold">chr17:38600500{"\u2013"}38601000</T>
        <T x={3450} y={997} anchor="middle" size={33}>Age</T>
        <T x={3450} y={2048} anchor="middle" size={33}>Age</T>
        <T x={2916} y={491} anchor="middle" size={33} transform="rotate(-90 2916 491)">Methylation (Normalized RPM)</T>
        <T x={2916} y={1539} anchor="middle" size={33} transform="rotate(-90 2916 1539)">Methylation (Normalized RPM)</T>
      </svg>
    </div>
  );
}
